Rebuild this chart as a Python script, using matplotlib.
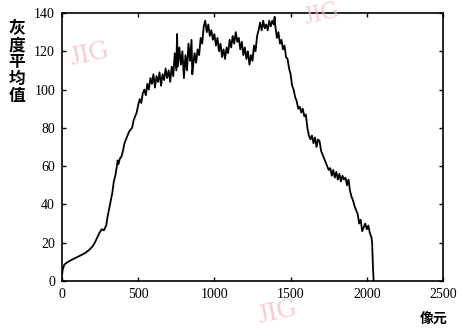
import matplotlib
matplotlib.use("Agg")
import matplotlib.pyplot as plt

# pixel position (x) and mean gray value (y)
pixel = [0, 5, 15, 30, 50, 75, 100, 125, 150, 175, 200, 215, 230, 245, 260, 275, 290, 300,
         310, 320, 330, 340, 350, 360, 365, 370, 380, 390, 400, 410, 420, 430, 440, 450, 460, 470, 480, 490, 500,
         510, 520, 530, 540, 550, 560, 570, 580, 590, 600, 610, 620, 630, 640, 650, 660, 670, 680, 690, 700,
         710, 720, 730, 740, 750, 755, 760, 770, 780, 790, 800, 810, 820, 830, 840, 850, 855, 860, 870, 880,
         890, 900, 910, 920, 930, 940, 950,
         960, 970, 980, 990, 1000, 1010, 1020, 1030, 1040, 1050, 1060, 1070, 1080, 1090, 1100, 1110, 1120,
         1130, 1140, 1150, 1160, 1170, 1180, 1190, 1200, 1210, 1220, 1230, 1240, 1250, 1260, 1270, 1280,
         1290, 1300, 1310, 1320, 1330, 1340, 1350, 1360, 1370, 1380, 1390, 1395, 1400,
         1410, 1420, 1430, 1440, 1450, 1460, 1470, 1480, 1490, 1500, 1510, 1520, 1530, 1540, 1550, 1560,
         1570, 1580, 1590, 1600, 1610, 1620, 1630, 1640, 1650, 1660, 1670, 1680, 1690, 1700, 1710, 1720,
         1730, 1740, 1750, 1760, 1770, 1780, 1790, 1800,
         1810, 1820, 1830, 1840, 1850, 1860, 1870, 1880, 1890, 1900, 1910, 1920, 1930, 1940, 1950, 1960,
         1970, 1980, 1990, 2000, 2010, 2020, 2030, 2035, 2040, 2045]
gray = [3, 6, 8.5, 9.5, 10.5, 11.5, 12.5, 13.5, 14.5, 16, 18, 20, 22.5, 25, 27, 26.5, 29, 34,
        38, 42, 46, 52, 55, 60, 63, 61, 64, 65, 68, 72, 74, 76, 78, 79, 80, 84, 86, 88, 92,
        95, 93, 98, 100, 97, 103, 100, 106, 103, 108, 101, 107, 104, 109, 102, 108, 105, 111, 106, 110,
        104, 112, 107, 119, 110, 129, 112, 122, 113, 120, 106, 118, 110, 124, 115, 126, 108, 112, 119, 114,
        121, 118, 127, 124, 133, 136, 130,
        134, 128, 131, 126, 129, 123, 127, 120, 124, 117, 121, 116, 122, 119, 126, 122, 128,
        124, 130, 125, 127, 121, 125, 118, 122, 116, 120, 113, 118, 115, 123, 120, 128,
        131, 135, 131, 136, 132, 134, 131, 136, 133, 136, 134, 138, 133,
        127, 130, 124, 126, 121, 123, 117, 116, 111, 108, 102, 100, 96, 94, 90, 91,
        88, 90, 86, 87, 80, 76, 74, 76, 72, 75, 70, 74, 73, 68, 66, 64,
        62, 60, 58, 59, 55, 58, 54, 57,
        53, 56, 52, 55, 53, 54, 50, 53, 47, 44, 42, 39, 37, 35, 30, 32,
        26, 28, 30, 27, 29, 25, 23, 20, 8, 0]

xticks = [0, 500, 1000, 1500, 2000, 2500]
yticks = [0, 20, 40, 60, 80, 100, 120, 140]

fig = plt.figure(figsize=(4.68, 3.31), dpi=100)
ax = fig.add_axes([62/468, 1-281/331, (443-62)/468, (281-13)/331])
ax.plot(pixel, gray, color="black", lw=1.3)
ax.set_xlim(0, 2500)
ax.set_ylim(0, 140)
ax.set_xticks(xticks)
ax.set_yticks(yticks)
ax.set_xticklabels([str(v) for v in xticks], family="Liberation Serif", fontsize=10)
ax.set_yticklabels([str(v) for v in yticks], family="Liberation Serif", fontsize=10)
ax.tick_params(direction="in", top=True, right=True, length=3, width=1, pad=5)
for s in ax.spines.values():
    s.set_linewidth(1.2)

fig.text(17/468, 1-62/331, "灰\n度\n平\n均\n值", family="Noto Sans CJK SC", fontsize=12,
         weight="bold", ha="center", va="center", linespacing=0.92)
fig.text(434/468, 1-320/331, "像元", family="Noto Sans CJK SC", fontsize=10,
         weight="bold", ha="center", va="center")

wm = dict(family="Liberation Serif", color="#f7b8b8", alpha=0.7, ha="center", va="center", rotation=12)
fig.text(90/468, 1-54/331, "JIG", fontsize=20, **wm)
fig.text(322/468, 1-14/331, "JIG", fontsize=18, **wm)
fig.text(278/468, 1-312/331, "JIG", fontsize=20, **wm)

fig.savefig("out.png", dpi=100)
